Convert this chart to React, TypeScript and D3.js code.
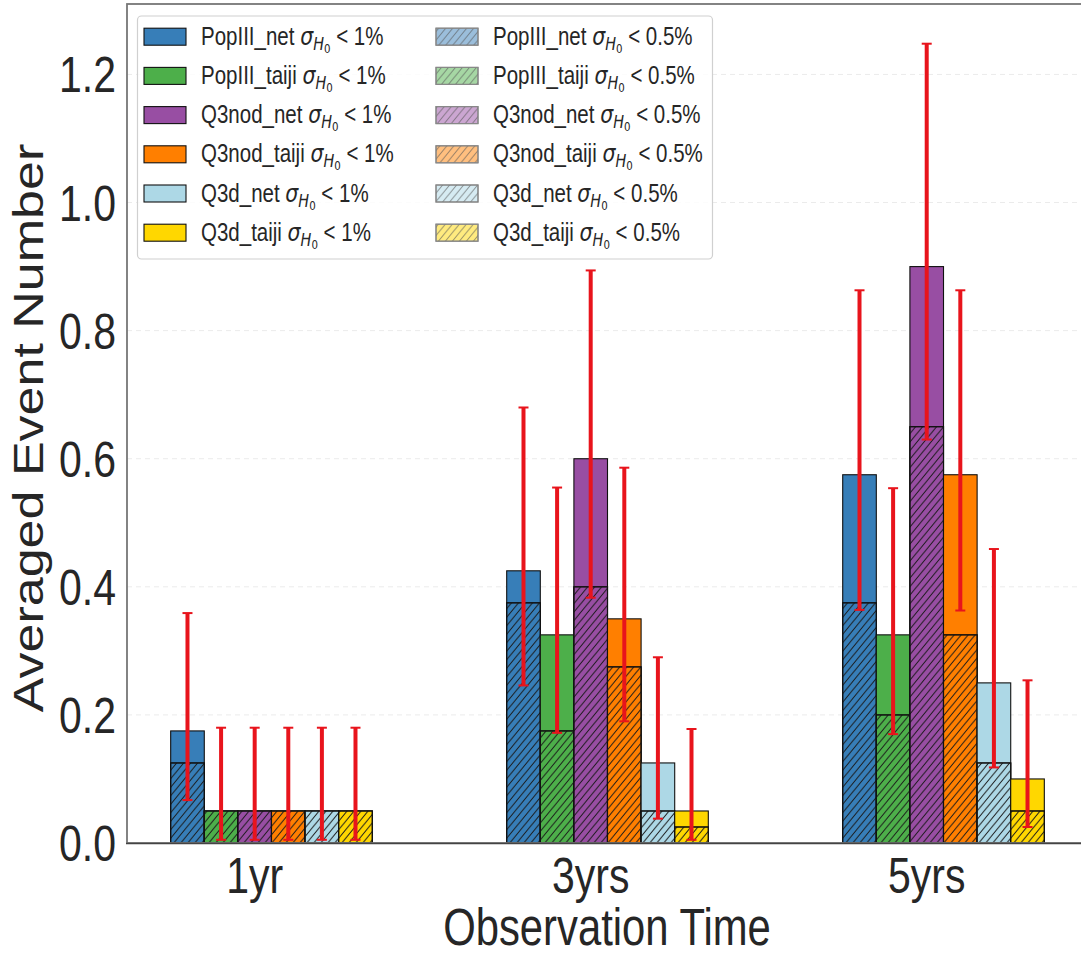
import * as d3 from "d3";

// groups on the x axis
const categories = ["1yr", "3yrs", "5yrs"];
const seriesNames = ["PopIII_net", "PopIII_taiji", "Q3nod_net", "Q3nod_taiji", "Q3d_net", "Q3d_taiji"];
const seriesColors = ["#377eb8", "#4daf4a", "#984ea3", "#ff7f00", "#add8e6", "#ffd700"];

// averaged event number, sigma_H0 < 1% (one row per series, one value per category)
const events1 = [
  [0.175, 0.425, 0.575],
  [0.05, 0.325, 0.325],
  [0.05, 0.6, 0.9],
  [0.05, 0.35, 0.575],
  [0.05, 0.125, 0.25],
  [0.05, 0.05, 0.1],
];
// averaged event number, sigma_H0 < 0.5%
const events05 = [
  [0.125, 0.375, 0.375],
  [0.05, 0.175, 0.2],
  [0.05, 0.4, 0.65],
  [0.05, 0.275, 0.325],
  [0.05, 0.05, 0.125],
  [0.05, 0.025, 0.05],
];
// error bar ends
const errLow = [
  [0.067, 0.246, 0.364],
  [0.005, 0.172, 0.17],
  [0.005, 0.383, 0.63],
  [0.005, 0.19, 0.363],
  [0.005, 0.038, 0.118],
  [0.005, 0.005, 0.025],
];
const errHigh = [
  [0.359, 0.68, 0.863],
  [0.18, 0.555, 0.554],
  [0.18, 0.894, 1.248],
  [0.18, 0.586, 0.863],
  [0.18, 0.29, 0.459],
  [0.18, 0.178, 0.254],
];
const yTicks = [0, 0.2, 0.4, 0.6, 0.8, 1.0, 1.2];

const W = 1081;
const H = 956;
const SX = 0.82; // the picture is squeezed sideways
const barW = 0.1;
const FONT = "'Liberation Sans', Arial, sans-serif";
const MATH = "'DejaVu Sans', sans-serif";

const x = d3.scaleLinear().domain([-0.18, 2.68]).range([127, 1088]);
const y = d3.scaleLinear().domain([0, 1.31]).range([843, 4]);

function Label({ name, pct, lx, ly }) {
  const f = 25;
  return (
    <text
      transform={`translate(${lx},${ly}) scale(${SX},1)`}
      fontFamily={FONT}
      fontSize={f}
      fill="#262626"
      style={{ whiteSpace: "pre" }}
    >
      {name + " "}
      <tspan fontFamily={MATH} fontStyle="italic">σ</tspan>
      <tspan fontFamily={MATH} fontStyle="italic" fontSize={f * 0.7} dy={f * 0.2}>H</tspan>
      <tspan fontFamily={MATH} fontSize={f * 0.5} dy={f * 0.12}>0</tspan>
      <tspan fontSize={f} dy={-f * 0.32}>{" < " + pct}</tspan>
    </text>
  );
}

export default function App() {
  const legendRows = seriesNames.map((s, i) => 36.7 + i * 39.2);

  return (
    <svg width={W} height={H} style={{ position: "absolute", left: 0, top: 0, background: "#fff" }}>
      <defs>
        <pattern id="hatch" patternUnits="userSpaceOnUse" width="7" height="8.5">
          <path d="M-0.7,9.35 L7.7,-0.85 M-7.7,9.35 L0.7,-0.85 M6.3,9.35 L14.7,-0.85" stroke="#1a1a1a" strokeWidth="1" />
        </pattern>
        <pattern id="hatchLight" patternUnits="userSpaceOnUse" width="7" height="8.5">
          <path d="M-0.7,9.35 L7.7,-0.85 M-7.7,9.35 L0.7,-0.85 M6.3,9.35 L14.7,-0.85" stroke="#555" strokeOpacity="0.6" strokeWidth="1" />
        </pattern>
        <clipPath id="plot">
          <rect x={127} y={4} width={961} height={839} />
        </clipPath>
      </defs>

      {/* grid */}
      {yTicks.slice(1).map((t) => (
        <line key={t} x1={127} x2={1088} y1={y(t)} y2={y(t)} stroke="#ebebeb" strokeWidth={1} strokeDasharray="5,4" />
      ))}

      {/* bars */}
      <g clipPath="url(#plot)">
        {seriesNames.map((s, k) =>
          categories.map((c, i) => {
            const x0 = x(i + k * barW - barW / 2);
            const bw = x(i + k * barW + barW / 2) - x0;
            return (
              <g key={s + c}>
                <rect x={x0} y={y(events1[k][i])} width={bw} height={y(0) - y(events1[k][i])} fill={seriesColors[k]} stroke="#111" strokeWidth={1.1} />
                <rect x={x0} y={y(events05[k][i])} width={bw} height={y(0) - y(events05[k][i])} fill={seriesColors[k]} stroke="#111" strokeWidth={1.1} />
                <rect x={x0} y={y(events05[k][i])} width={bw} height={y(0) - y(events05[k][i])} fill="url(#hatch)" stroke="#111" strokeWidth={1.1} />
              </g>
            );
          })
        )}
        {/* error bars */}
        {seriesNames.map((s, k) =>
          categories.map((c, i) => {
            const cx = x(i + k * barW);
            return (
              <g key={"e" + s + c} stroke="#e8141c">
                <line x1={cx} x2={cx} y1={y(errLow[k][i])} y2={y(errHigh[k][i])} strokeWidth={4} />
                <line x1={cx - 5} x2={cx + 5} y1={y(errLow[k][i])} y2={y(errLow[k][i])} strokeWidth={2} />
                <line x1={cx - 5} x2={cx + 5} y1={y(errHigh[k][i])} y2={y(errHigh[k][i])} strokeWidth={2} />
              </g>
            );
          })
        )}
      </g>

      {/* frame */}
      <rect x={127} y={4} width={961} height={839} fill="none" stroke="#777" strokeWidth={1.8} />
      <line x1={126} x2={1088} y1={843.5} y2={843.5} stroke="#444" strokeWidth={1.5} />

      {/* y ticks */}
      {yTicks.map((t) => (
        <text key={t} transform={`translate(116,${y(t) + 18}) scale(${SX},1)`} textAnchor="end" fontFamily={FONT} fontSize={50} fill="#262626">
          {t.toFixed(1)}
        </text>
      ))}
      {/* x ticks */}
      {categories.map((c, i) => (
        <text key={c} transform={`translate(${x(i + 2 * barW)},893) scale(${SX},1)`} textAnchor="middle" fontFamily={FONT} fontSize={50} fill="#262626">
          {c}
        </text>
      ))}

      <text transform={`translate(607,945) scale(${SX},1)`} textAnchor="middle" fontFamily={FONT} fontSize={51} fill="#262626">
        Observation Time
      </text>
      <text transform={`translate(43,428) scale(${SX},1) rotate(-90)`} textAnchor="middle" fontFamily={FONT} fontSize={52} fill="#262626">
        Averaged Event Number
      </text>

      {/* legend */}
      <rect x={137.5} y={16} width={575} height={243} rx={4} fill="#fff" fillOpacity={0.85} stroke="#d0d0d0" strokeWidth={1.2} />
      {seriesNames.map((s, k) => (
        <g key={"l" + s}>
          <rect x={144} y={legendRows[k] - 8.5} width={42} height={17} fill={seriesColors[k]} stroke="#111" strokeWidth={1.1} />
          <Label name={s} pct="1%" lx={201} ly={legendRows[k] + 8} />
          <rect x={436} y={legendRows[k] - 8.5} width={42} height={17} fill={seriesColors[k]} fillOpacity={0.5} stroke="#888" strokeWidth={1.1} />
          <rect x={436} y={legendRows[k] - 8.5} width={42} height={17} fill="url(#hatchLight)" stroke="#888" strokeWidth={1.1} />
          <Label name={s} pct="0.5%" lx={493} ly={legendRows[k] + 8} />
        </g>
      ))}
    </svg>
  );
}
